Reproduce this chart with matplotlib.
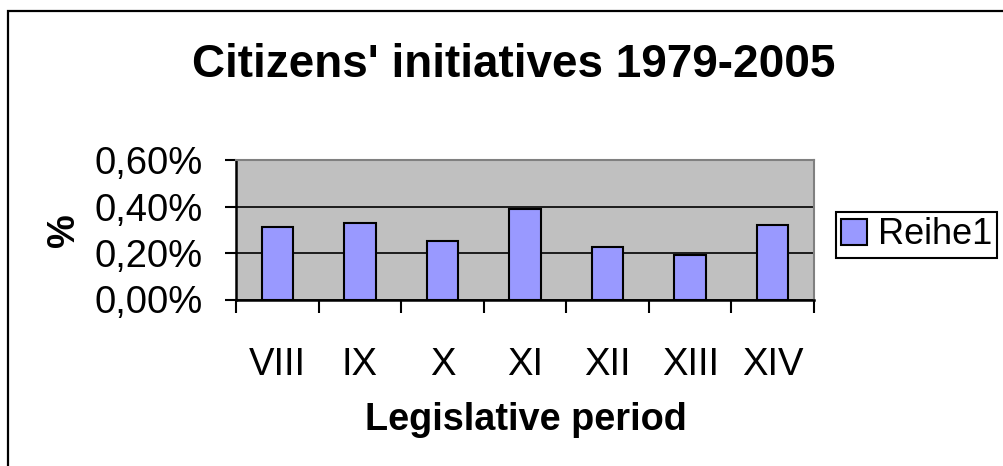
import matplotlib
matplotlib.use("Agg")
import matplotlib.pyplot as plt
from matplotlib.patches import Rectangle
from matplotlib.ticker import FuncFormatter, FixedLocator
import numpy as np

periods = ["VIII", "IX", "X", "XI", "XII", "XIII", "XIV"]
share = [0.0031, 0.0033, 0.0025, 0.0039, 0.00224, 0.0019, 0.0032]
series_name = "Reihe1"

plt.rcParams['font.family'] = ['Liberation Sans', 'DejaVu Sans']

W, H = 1004, 466
fig = plt.figure(figsize=(W / 100, H / 100), dpi=100)

# outer chart frame (right/bottom edges fall outside the picture)
fig.patches.append(Rectangle((8 / W, -0.2), 1.2, (H - 11) / H + 0.2,
                             transform=fig.transFigure, fill=False,
                             edgecolor='black', lw=1.6))

ax = fig.add_axes([236 / W, (H - 299.5) / H, 578 / W, 139.5 / H])
ax.set_facecolor('#C0C0C0')

x = np.arange(len(periods))
bars = ax.bar(x, share, width=0.38, color='#9999FF', edgecolor='black',
              lw=1.5, zorder=3, label=series_name)

ax.set_xlim(-0.5, len(periods) - 0.5)
ax.set_ylim(0, 0.006)
ax.set_yticks([0, 0.002, 0.004, 0.006])
ax.yaxis.set_major_formatter(FuncFormatter(lambda v, p: f"{v * 100:.2f}%".replace('.', ',')))
ax.grid(axis='y', color='black', lw=1.2, zorder=1)

ax.set_xticks(x)
ax.set_xticklabels(periods)
ax.xaxis.set_minor_locator(FixedLocator(np.arange(-0.5, len(periods), 1.0)))
ax.tick_params(axis='x', which='major', length=0, pad=34, labelsize=27.5)
ax.tick_params(axis='x', which='minor', length=9, width=1.5, direction='out')
ax.tick_params(axis='y', length=8, width=1.5, pad=16, labelsize=27.5)

for s in ['left', 'bottom']:
    ax.spines[s].set_color('black')
    ax.spines[s].set_linewidth(1.8)
for s in ['top', 'right']:
    ax.spines[s].set_color('#808080')
    ax.spines[s].set_linewidth(1.5)

fig.text(514 / W, 1 - 65 / H, "Citizens' initiatives 1979-2005",
         ha='center', va='center', fontsize=33, fontweight='bold')
fig.text(526 / W, 1 - 420 / H, "Legislative period",
         ha='center', va='center', fontsize=27.3, fontweight='bold')
fig.text(64 / W, 1 - 230 / H, "%", rotation=90,
         ha='center', va='center', fontsize=27.3, fontweight='bold')

leg = fig.legend(handles=[bars], loc='center left',
                 bbox_to_anchor=(836 / W, 1 - 235 / H), fontsize=26,
                 frameon=True, fancybox=False, framealpha=1,
                 edgecolor='black', handlelength=0.7, handleheight=0.7,
                 handletextpad=0.3, borderpad=0.15, borderaxespad=0)
leg.get_frame().set_linewidth(1.5)

fig.savefig("out.png", dpi=100)
